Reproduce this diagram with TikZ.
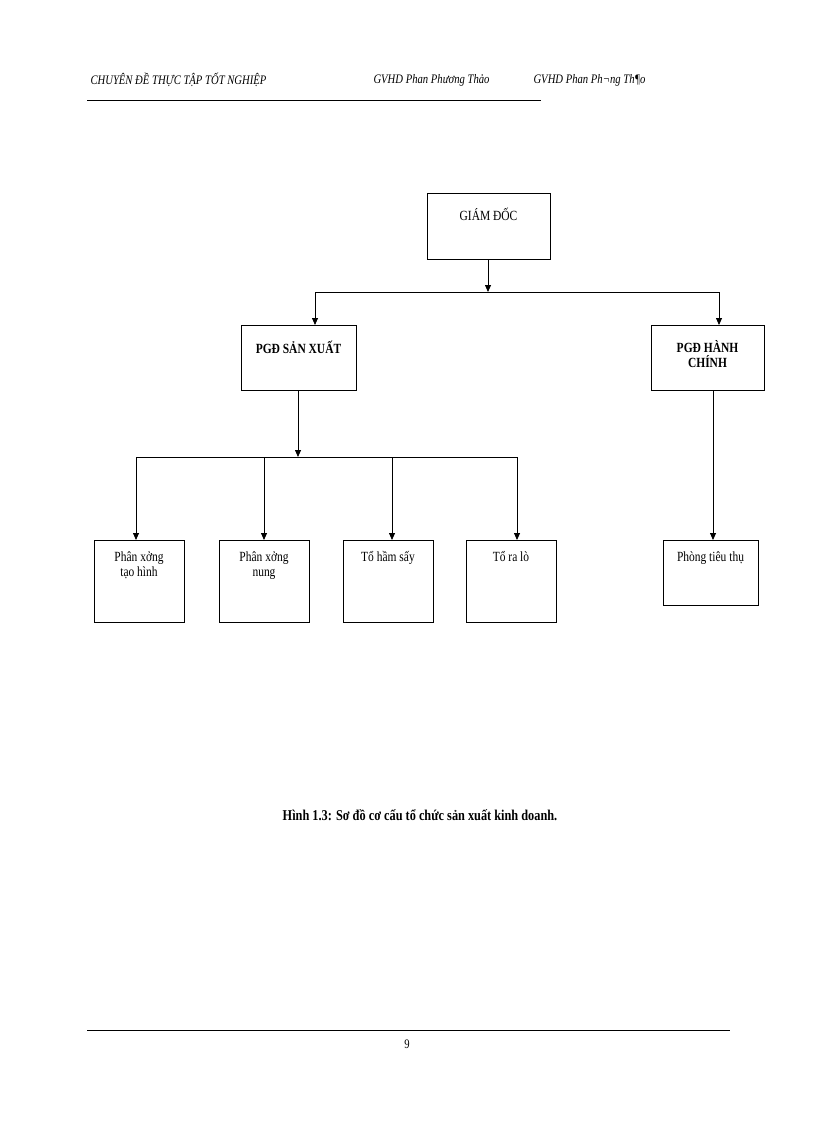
\documentclass[tikz,border=0pt]{standalone}
\usepackage{fontspec}
\setmainfont{Liberation Serif}
\newfontfamily\nar[FakeStretch=0.82]{Liberation Serif}
\usetikzlibrary{arrows.meta}
\begin{document}
\begin{tikzpicture}[x=1pt,y=-1pt,
  box/.style={draw,thick,minimum width=#1},
  ln/.style={thick},
  ar/.style={thick,-{Triangle[length=7pt,width=6pt]}},
  lbl/.style={font=\nar\fontsize{14}{15}\selectfont,align=center,anchor=north}]
\useasboundingbox (0,0) rectangle (816,1123);
% header
\node[anchor=west,font=\nar\itshape\fontsize{13}{14}\selectfont] (h1) at (87,80) {CHUYÊN ĐỀ THỰC TẬP TỐT NGHIỆP};
\node[anchor=west,font=\nar\itshape\fontsize{13}{14}\selectfont] (h2) at (370,80) {GVHD Phan Phương Thảo};
\node[anchor=west,font=\nar\itshape\fontsize{13}{14}\selectfont] (h3) at (530,80) {GVHD Phan Ph¬ng Th¶o};
\coordinate (hl1) at (87,100); \coordinate (hl2) at (541,100);
\draw[thick] (hl1) -- (hl2);
% boxes
\draw[thick] (427,193) rectangle (550,259);
\node[lbl] (gd) at (488.5,205) {GIÁM ĐỐC};
\draw[thick] (241,325) rectangle (356,390);
\node[lbl,font=\nar\bfseries\fontsize{14}{15}\selectfont] (sx) at (298.5,337) {PGĐ SẢN XUẤT};
\draw[thick] (651,325) rectangle (764,390);
\node[lbl,font=\nar\bfseries\fontsize{14}{15}\selectfont] (hc) at (707.5,337) {PGĐ HÀNH\\CHÍNH};
\foreach \a/\b/\t [count=\i] in {94/184/{Phân xởng\\ tạo hình},219/309/{Phân xởng\\nung},343/433/{Tổ hầm sấy},466/556/{Tổ ra lò}}{
  \draw[thick] (\a,540) rectangle (\b,622);
  \node[lbl] (b\i) at ({(\a+\b)/2},548) {\t};
}
\draw[thick] (663,540) rectangle (758,605);
\node[lbl] (pt) at (710.5,548) {Phòng tiêu thụ};
% connectors
\coordinate (g0) at (488,259); \coordinate (g1) at (488,292);
\coordinate (gl) at (315,292); \coordinate (gr) at (719,292);
\coordinate (sxt) at (315,325); \coordinate (hct) at (719,325);
\draw[ar] (g0) -- (g1);
\draw[ln] (gl) -- (gr);
\draw[ar] (gl) -- (sxt);
\draw[ar] (gr) -- (hct);
\coordinate (s0) at (298,390); \coordinate (s1) at (298,457);
\coordinate (sl) at (136,457); \coordinate (sr) at (517,457);
\draw[ar] (s0) -- (s1);
\draw[ln] (sl) -- (sr);
\foreach \x in {136,264,392,517}{
  \coordinate (t\x) at (\x,457); \coordinate (u\x) at (\x,540);
  \draw[ar] (t\x) -- (u\x);
}
\coordinate (c0) at (713,390); \coordinate (c1) at (713,540);
\draw[ar] (c0) -- (c1);
% caption
\node[font=\nar\bfseries\fontsize{15}{16}\selectfont] (cap) at (420,815) {Hình 1.3: Sơ đồ cơ cấu tổ chức sản xuất kinh doanh.};
% footer
\coordinate (f1) at (87,1030); \coordinate (f2) at (730,1030);
\draw[thick] (f1) -- (f2);
\node[font=\nar\fontsize{13}{14}\selectfont] (pg) at (407,1044) {9};
\end{tikzpicture}
\end{document}
